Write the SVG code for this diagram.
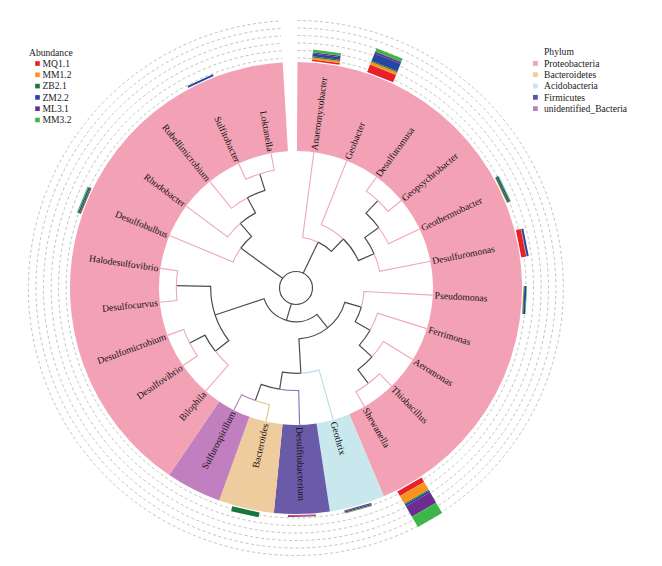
<svg xmlns="http://www.w3.org/2000/svg" width="662" height="566" viewBox="0 0 662 566">
<style>
.lbl{font-family:"Liberation Serif","Times New Roman",serif;font-size:9.6px;fill:#111}
.leg{font-family:"Liberation Serif","Times New Roman",serif;font-size:9.6px;fill:#222}
.grid{fill:none;stroke:#c2c2c2;stroke-width:1;stroke-dasharray:3 2.6}
.e{fill:none;stroke-width:1.1;stroke-linecap:butt}
.dk{stroke:#4d4d4d;stroke-width:1.2}
.pk{stroke:#EFA6B8}
.lb{stroke:#B5DFE6}
.pu{stroke:#7F70B8}
.tn{stroke:#E2BF8E}
.or{stroke:#BC7CBC}
.c1{fill:#E8202A}.c2{fill:#F7941D}.c3{fill:#16783A}.c4{fill:#2546A0}.c5{fill:#6B2D8E}.c6{fill:#3DB54A}
</style>
<rect width="662" height="566" fill="#ffffff"/>

<g id="rings">
<path id="wedge-proteo-1" fill="#F3A2B6" d="M297.48,62.00 A226,226 0 0 1 383.85,496.23 L349.26,414.23 A137,137 0 0 0 296.90,151.00 Z"/>
<path id="wedge-acido" fill="#C9E8ED" d="M383.85,496.23 A226,226 0 0 1 329.89,511.45 L316.55,423.45 A137,137 0 0 0 349.26,414.23 Z"/>
<path id="wedge-firm" fill="#6A5BA9" d="M329.89,511.45 A226,226 0 0 1 273.85,512.91 L282.57,424.34 A137,137 0 0 0 316.55,423.45 Z"/>
<path id="wedge-bact" fill="#EFCC9E" d="M273.85,512.91 A226,226 0 0 1 219.17,500.54 L249.42,416.84 A137,137 0 0 0 282.57,424.34 Z"/>
<path id="wedge-unid" fill="#C17FC0" d="M219.17,500.54 A226,226 0 0 1 169.21,475.09 L219.14,401.41 A137,137 0 0 0 249.42,416.84 Z"/>
<path id="wedge-proteo-2" fill="#F3A2B6" d="M169.21,475.09 A226,226 0 0 1 282.70,62.39 L287.94,151.24 A137,137 0 0 0 219.14,401.41 Z"/>
</g>

<g id="grid">
<path class="grid" d="M297.51,58.00 A230,230 0 1 1 282.46,58.40"/>
<path class="grid" d="M297.55,50.50 A237.5,237.5 0 1 1 282.02,50.91"/>
<path class="grid" d="M297.60,43.00 A245,245 0 1 1 281.58,43.43"/>
<path class="grid" d="M297.65,35.51 A252.5,252.5 0 1 1 281.14,35.94"/>
<path class="grid" d="M297.70,28.01 A260,260 0 1 1 280.70,28.45"/>
<path class="grid" d="M297.75,20.51 A267.5,267.5 0 1 1 280.25,20.96"/>
</g>

<g id="connectors">
<circle class="e dk" cx="296" cy="288" r="16.5"/>
<path class="e dk" d="M303.17,273.14 L318.12,242.16"/>
<path class="e dk" d="M291.31,303.82 L286.41,320.31"/>
<path class="e dk" d="M282.63,278.33 L240.81,248.11"/>
<path class="e pk" d="M318.12,242.16 A50.9,50.9 0 0 0 302.64,237.54 L313.87,152.27"/>
<path class="e dk" d="M318.12,242.16 A50.9,50.9 0 0 1 331.37,251.40 L343.32,239.03"/>
<path class="e pk" d="M343.32,239.03 A68.1,68.1 0 0 0 321.24,224.75 L346.73,160.85"/>
<path class="e dk" d="M343.32,239.03 A68.1,68.1 0 0 1 358.35,260.61 L374.09,253.69"/>
<path class="e dk" d="M374.09,253.69 A85.3,85.3 0 0 0 364.85,237.64 L378.73,227.48"/>
<path class="e pk" d="M374.09,253.69 A85.3,85.3 0 0 1 379.66,271.36 L430.27,261.29"/>
<path class="e dk" d="M378.73,227.48 A102.5,102.5 0 0 0 366.07,213.19 L377.83,200.64"/>
<path class="e pk" d="M378.73,227.48 A102.5,102.5 0 0 1 388.52,243.87 L419.56,229.06"/>
<path class="e pk" d="M377.83,200.64 A119.7,119.7 0 0 0 366.36,191.16 L376.47,177.25"/>
<path class="e pk" d="M377.83,200.64 A119.7,119.7 0 0 1 388.03,211.46 L401.25,200.46"/>
<path class="e dk" d="M286.41,320.31 A33.7,33.7 0 0 0 316.96,314.39 L327.66,327.86"/>
<path class="e dk" d="M286.41,320.31 A33.7,33.7 0 0 1 264.04,298.68 L215.09,315.02"/>
<path class="e dk" d="M327.66,327.86 A50.9,50.9 0 0 0 344.84,302.34 L361.34,307.18"/>
<path class="e dk" d="M327.66,327.86 A50.9,50.9 0 0 1 298.91,338.82 L300.88,373.16"/>
<path class="e pk" d="M361.34,307.18 A68.1,68.1 0 0 0 364.01,291.56 L432.71,295.16"/>
<path class="e dk" d="M361.34,307.18 A68.1,68.1 0 0 1 355.14,321.76 L370.08,330.29"/>
<path class="e pk" d="M370.08,330.29 A85.3,85.3 0 0 0 377.46,313.30 L426.74,328.60"/>
<path class="e dk" d="M370.08,330.29 A85.3,85.3 0 0 1 359.20,345.28 L371.95,356.84"/>
<path class="e pk" d="M371.95,356.84 A102.5,102.5 0 0 0 383.40,341.56 L412.73,359.53"/>
<path class="e dk" d="M371.95,356.84 A102.5,102.5 0 0 1 357.87,369.73 L368.25,383.44"/>
<path class="e pk" d="M368.25,383.44 A119.7,119.7 0 0 0 379.53,373.74 L391.53,386.06"/>
<path class="e pk" d="M368.25,383.44 A119.7,119.7 0 0 1 355.85,391.66 L364.45,406.56"/>
<path class="e lb" d="M300.88,373.16 A85.3,85.3 0 0 0 319.15,370.10 L333.16,419.76"/>
<path class="e dk" d="M300.88,373.16 A85.3,85.3 0 0 1 282.38,372.21 L279.63,389.19"/>
<path class="e pu" d="M279.63,389.19 A102.5,102.5 0 0 0 298.68,390.46 L299.58,424.85"/>
<path class="e dk" d="M279.63,389.19 A102.5,102.5 0 0 1 261.15,384.40 L255.31,400.57"/>
<path class="e tn" d="M255.31,400.57 A119.7,119.7 0 0 0 269.58,404.75 L265.79,421.52"/>
<path class="e or" d="M255.31,400.57 A119.7,119.7 0 0 1 241.66,394.65 L233.85,409.98"/>
<path class="e dk" d="M215.09,315.02 A85.3,85.3 0 0 0 228.84,340.59 L215.30,351.19"/>
<path class="e dk" d="M215.09,315.02 A85.3,85.3 0 0 1 210.72,286.33 L176.32,285.65"/>
<path class="e pk" d="M215.30,351.19 A102.5,102.5 0 0 0 228.42,365.06 L205.74,390.93"/>
<path class="e dk" d="M215.30,351.19 A102.5,102.5 0 0 1 204.98,335.13 L189.70,343.04"/>
<path class="e pk" d="M189.70,343.04 A119.7,119.7 0 0 0 197.35,355.80 L183.18,365.54"/>
<path class="e pk" d="M189.70,343.04 A119.7,119.7 0 0 1 183.70,329.43 L167.56,335.38"/>
<path class="e pk" d="M176.32,285.65 A119.7,119.7 0 0 0 176.96,300.51 L159.85,302.31"/>
<path class="e pk" d="M176.32,285.65 A119.7,119.7 0 0 1 177.54,270.82 L160.52,268.36"/>
<path class="e pk" d="M240.81,248.11 A68.1,68.1 0 0 0 233.08,261.94 L169.52,235.61"/>
<path class="e dk" d="M240.81,248.11 A68.1,68.1 0 0 1 251.52,236.43 L240.29,223.41"/>
<path class="e pk" d="M240.29,223.41 A85.3,85.3 0 0 0 227.65,236.96 L186.31,206.09"/>
<path class="e dk" d="M240.29,223.41 A85.3,85.3 0 0 1 255.55,212.90 L247.39,197.76"/>
<path class="e pk" d="M247.39,197.76 A102.5,102.5 0 0 0 231.50,208.34 L209.85,181.61"/>
<path class="e dk" d="M247.39,197.76 A102.5,102.5 0 0 1 264.96,190.31 L259.76,173.92"/>
<path class="e pk" d="M259.76,173.92 A119.7,119.7 0 0 0 245.89,179.30 L238.69,163.68"/>
<path class="e pk" d="M259.76,173.92 A119.7,119.7 0 0 1 274.19,170.30 L271.05,153.39"/>
</g>

<g id="tip-Anaeromyxobacter">
<text class="lbl" x="314.14" y="150.19" dy="0.35em" transform="rotate(-82.5 314.14 150.19)">Anaeromyxobacter</text>
<g transform="translate(296 288) rotate(-82.5)"><rect class="c1" x="227" y="-14" width="1.7" height="28"/><rect class="c2" x="228.7" y="-14" width="2" height="28"/><rect class="c3" x="230.7" y="-14" width="1.3" height="28"/><rect class="c4" x="232" y="-14" width="2.7" height="28"/><rect class="c5" x="234.7" y="-14" width="1.3" height="28"/><rect class="c6" x="236" y="-14" width="2.7" height="28"/></g>
</g>
<g id="tip-Geobacter">
<text class="lbl" x="347.51" y="158.90" dy="0.35em" transform="rotate(-68.25 347.51 158.90)">Geobacter</text>
<g transform="translate(296 288) rotate(-68.25)"><rect class="c1" x="227" y="-14" width="8" height="28"/><rect class="c2" x="235" y="-14" width="3" height="28"/><rect class="c3" x="238" y="-14" width="1" height="28"/><rect class="c4" x="239" y="-14" width="8" height="28"/><rect class="c5" x="247" y="-14" width="2" height="28"/><rect class="c6" x="249" y="-14" width="3.5" height="28"/></g>
</g>
<g id="tip-Desulfuromusa">
<text class="lbl" x="377.70" y="175.55" dy="0.35em" transform="rotate(-54 377.70 175.55)">Desulfuromusa</text>
</g>
<g id="tip-Geopsychrobacter">
<text class="lbl" x="402.87" y="199.12" dy="0.35em" transform="rotate(-39.75 402.87 199.12)">Geopsychrobacter</text>
</g>
<g id="tip-Geothermobacter">
<text class="lbl" x="421.46" y="228.16" dy="0.35em" transform="rotate(-25.5 421.46 228.16)">Geothermobacter</text>
<g transform="translate(296 288) rotate(-25.5)"><rect class="c2" x="227" y="-14" width="0.6" height="28"/><rect class="c3" x="227.6" y="-14" width="1.4" height="28"/><rect class="c4" x="229" y="-14" width="1.5" height="28"/><rect class="c6" x="230.5" y="-14" width="0.8" height="28"/></g>
</g>
<g id="tip-Desulfuromonas">
<text class="lbl" x="432.33" y="260.88" dy="0.35em" transform="rotate(-11.25 432.33 260.88)">Desulfuromonas</text>
<g transform="translate(296 288) rotate(-11.25)"><rect class="c1" x="227" y="-14" width="5" height="28"/><rect class="c2" x="232" y="-14" width="0.5" height="28"/><rect class="c4" x="232.5" y="-14" width="2" height="28"/></g>
</g>
<g id="tip-Pseudomonas">
<text class="lbl" x="434.81" y="295.27" dy="0.35em" transform="rotate(3 434.81 295.27)">Pseudomonas</text>
<g transform="translate(296 288) rotate(3)"><rect class="c2" x="227" y="-14" width="0.5" height="28"/><rect class="c3" x="227.5" y="-14" width="0.6" height="28"/><rect class="c4" x="228.1" y="-14" width="2" height="28"/><rect class="c6" x="230.1" y="-14" width="0.5" height="28"/></g>
</g>
<g id="tip-Ferrimonas">
<text class="lbl" x="428.75" y="329.22" dy="0.35em" transform="rotate(17.25 428.75 329.22)">Ferrimonas</text>
</g>
<g id="tip-Aeromonas">
<text class="lbl" x="414.52" y="360.63" dy="0.35em" transform="rotate(31.5 414.52 360.63)">Aeromonas</text>
</g>
<g id="tip-Thiobacillus">
<text class="lbl" x="392.99" y="387.57" dy="0.35em" transform="rotate(45.75 392.99 387.57)">Thiobacillus</text>
</g>
<g id="tip-Shewanella">
<text class="lbl" x="365.50" y="408.38" dy="0.35em" transform="rotate(60 365.50 408.38)">Shewanella</text>
<g transform="translate(296 288) rotate(60)"><rect class="c1" x="227" y="-14" width="5" height="28"/><rect class="c2" x="232" y="-14" width="9" height="28"/><rect class="c3" x="241" y="-14" width="1" height="28"/><rect class="c4" x="242" y="-14" width="2" height="28"/><rect class="c5" x="244" y="-14" width="12" height="28"/><rect class="c6" x="256" y="-14" width="12" height="28"/></g>
</g>
<g id="tip-Geothrix">
<text class="lbl" x="333.73" y="421.78" dy="0.35em" transform="rotate(74.25 333.73 421.78)">Geothrix</text>
<g transform="translate(296 288) rotate(74.25)"><rect class="c2" x="227" y="-14" width="0.4" height="28"/><rect class="c4" x="227.4" y="-14" width="1" height="28"/><rect class="c5" x="228.4" y="-14" width="1.2" height="28"/><rect class="c6" x="229.6" y="-14" width="0.8" height="28"/></g>
</g>
<g id="tip-Desulfitobacterium">
<text class="lbl" x="299.64" y="426.95" dy="0.35em" transform="rotate(88.5 299.64 426.95)">Desulfitobacterium</text>
<g transform="translate(296 288) rotate(88.5)"><rect class="c1" x="227" y="-14" width="0.8" height="28"/><rect class="c5" x="227.8" y="-14" width="0.8" height="28"/></g>
</g>
<g id="tip-Bacteroides">
<text class="lbl" x="265.32" y="423.57" dy="0.35em" text-anchor="end" transform="rotate(-77.25 265.32 423.57)">Bacteroides</text>
<g transform="translate(296 288) rotate(102.75)"><rect class="c3" x="227" y="-14" width="5" height="28"/></g>
</g>
<g id="tip-Sulfurospirillum">
<text class="lbl" x="232.90" y="411.85" dy="0.35em" text-anchor="end" transform="rotate(-63 232.90 411.85)">Sulfurospirillum</text>
</g>
<g id="tip-Bilophila">
<text class="lbl" x="204.35" y="392.51" dy="0.35em" text-anchor="end" transform="rotate(-48.75 204.35 392.51)">Bilophila</text>
</g>
<g id="tip-Desulfovibrio">
<text class="lbl" x="181.45" y="366.73" dy="0.35em" text-anchor="end" transform="rotate(-34.5 181.45 366.73)">Desulfovibrio</text>
</g>
<g id="tip-Desulfomicrobium">
<text class="lbl" x="165.59" y="336.11" dy="0.35em" text-anchor="end" transform="rotate(-20.25 165.59 336.11)">Desulfomicrobium</text>
</g>
<g id="tip-Desulfocurvus">
<text class="lbl" x="157.76" y="302.53" dy="0.35em" text-anchor="end" transform="rotate(-6 157.76 302.53)">Desulfocurvus</text>
</g>
<g id="tip-Halodesulfovibrio">
<text class="lbl" x="158.44" y="268.05" dy="0.35em" text-anchor="end" transform="rotate(8.25 158.44 268.05)">Halodesulfovibrio</text>
</g>
<g id="tip-Desulfobulbus">
<text class="lbl" x="167.58" y="234.81" dy="0.35em" text-anchor="end" transform="rotate(22.5 167.58 234.81)">Desulfobulbus</text>
<g transform="translate(296 288) rotate(202.5)"><rect class="c1" x="227" y="-14" width="0.6" height="28"/><rect class="c3" x="227.6" y="-14" width="1.2" height="28"/><rect class="c4" x="228.8" y="-14" width="1.4" height="28"/><rect class="c6" x="230.2" y="-14" width="1.2" height="28"/></g>
</g>
<g id="tip-Rhodobacter">
<text class="lbl" x="184.63" y="204.83" dy="0.35em" text-anchor="end" transform="rotate(36.75 184.63 204.83)">Rhodobacter</text>
</g>
<g id="tip-Rubellimicrobium">
<text class="lbl" x="208.52" y="179.98" dy="0.35em" text-anchor="end" transform="rotate(51 208.52 179.98)">Rubellimicrobium</text>
</g>
<g id="tip-Sulfitobacter">
<text class="lbl" x="237.81" y="161.77" dy="0.35em" text-anchor="end" transform="rotate(65.25 237.81 161.77)">Sulfitobacter</text>
<g transform="translate(296 288) rotate(245.25)"><rect class="c4" x="227" y="-14" width="1.8" height="28"/></g>
</g>
<g id="tip-Loktanella">
<text class="lbl" x="270.67" y="151.33" dy="0.35em" text-anchor="end" transform="rotate(79.5 270.67 151.33)">Loktanella</text>
</g>

<g id="legend-abundance">
<text class="leg" x="29" y="56">Abundance</text>
<rect class="c1" x="35.2" y="61.2" width="4.6" height="4.6"/><text class="leg" x="42.5" y="66.8">MQ1.1</text>
<rect class="c2" x="35.2" y="72.5" width="4.6" height="4.6"/><text class="leg" x="42.5" y="78.1">MM1.2</text>
<rect class="c3" x="35.2" y="83.8" width="4.6" height="4.6"/><text class="leg" x="42.5" y="89.4">ZB2.1</text>
<rect class="c4" x="35.2" y="95.1" width="4.6" height="4.6"/><text class="leg" x="42.5" y="100.7">ZM2.2</text>
<rect class="c5" x="35.2" y="106.4" width="4.6" height="4.6"/><text class="leg" x="42.5" y="112.0">ML3.1</text>
<rect class="c6" x="35.2" y="117.7" width="4.6" height="4.6"/><text class="leg" x="42.5" y="123.3">MM3.2</text>
</g>

<g id="legend-phylum">
<text class="leg" x="544" y="55">Phylum</text>
<rect x="533" y="61" width="4.8" height="4.8" fill="#F3A2B6"/><text class="leg" x="544" y="66.6">Proteobacteria</text>
<rect x="533" y="72.3" width="4.8" height="4.8" fill="#EFCC9E"/><text class="leg" x="544" y="77.9">Bacteroidetes</text>
<rect x="533" y="83.6" width="4.8" height="4.8" fill="#C9E8ED"/><text class="leg" x="544" y="89.2">Acidobacteria</text>
<rect x="533" y="94.9" width="4.8" height="4.8" fill="#5F50A3"/><text class="leg" x="544" y="100.5">Firmicutes</text>
<rect x="533" y="106.2" width="4.8" height="4.8" fill="#C17FC0"/><text class="leg" x="544" y="111.8">unidentified_Bacteria</text>
</g>
</svg>
